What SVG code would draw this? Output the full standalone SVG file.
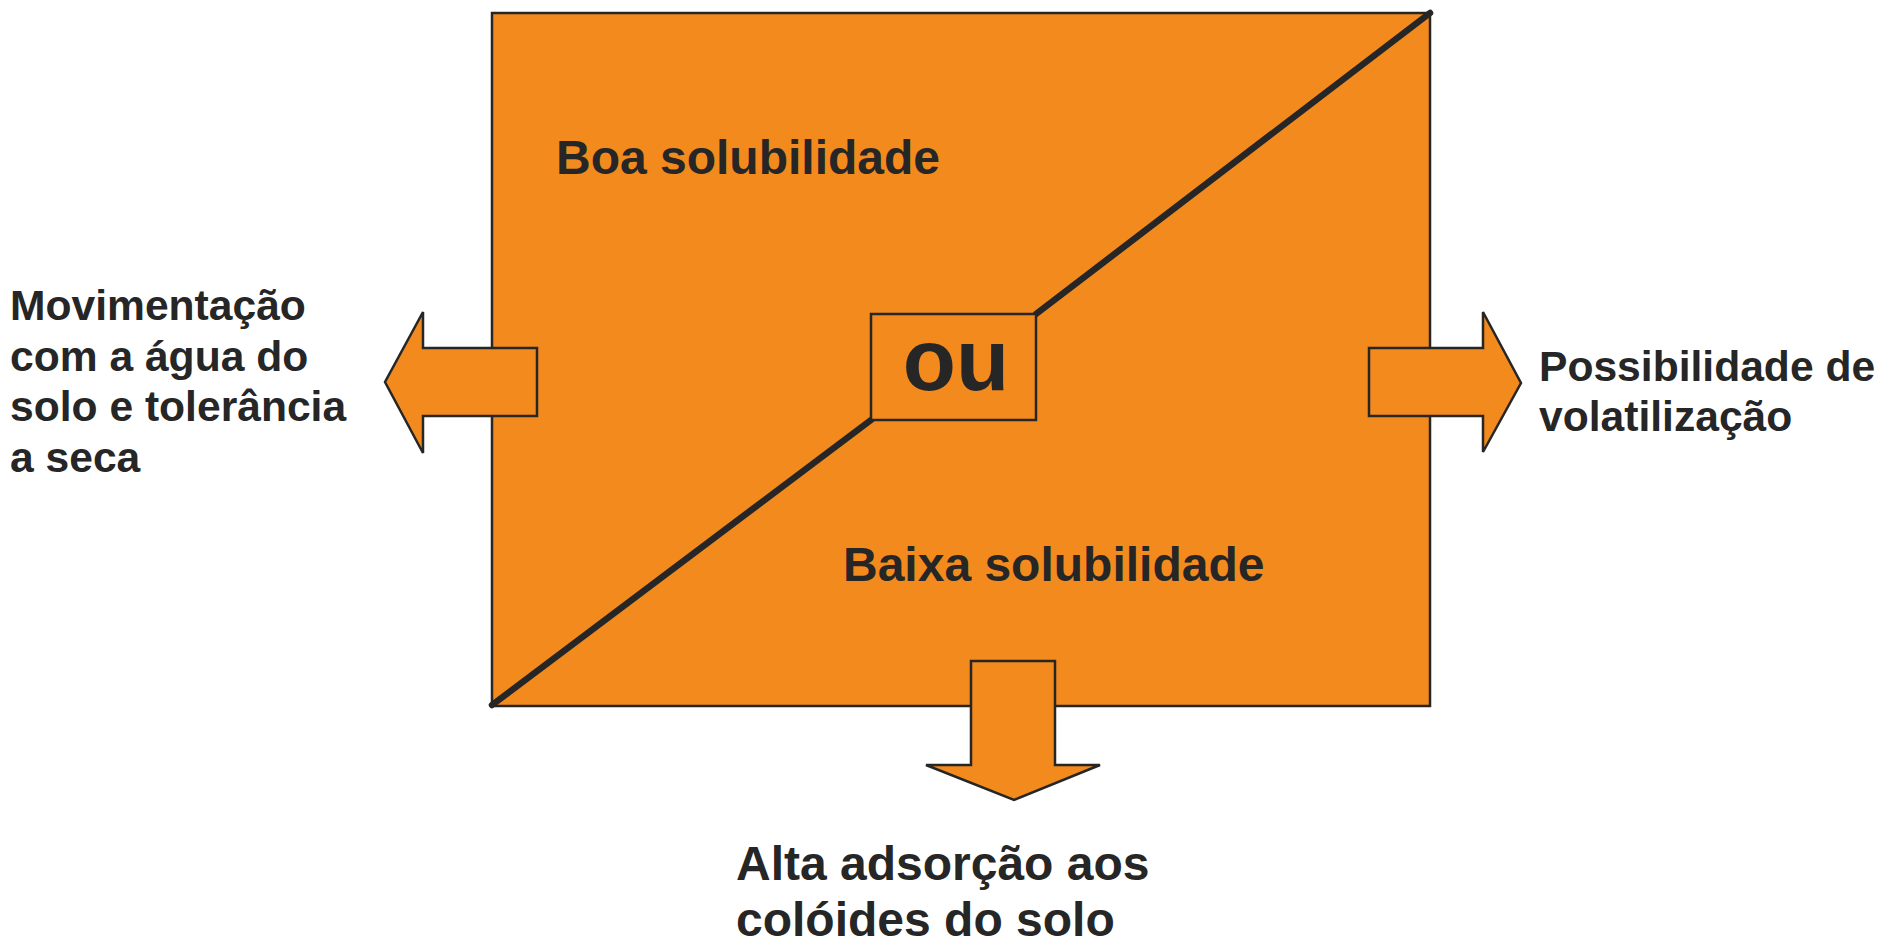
<svg xmlns="http://www.w3.org/2000/svg" width="1881" height="944" viewBox="0 0 1881 944">
<style>
.shape{fill:#F28A1E;stroke:#262626;stroke-width:2.5;stroke-linejoin:miter}
.diag{stroke:#262626;stroke-width:6.5;stroke-linecap:round;fill:none}
.lbl{font-family:"Liberation Sans",Arial,sans-serif;font-weight:bold;fill:#262626}
.big{font-size:48px}
.side{font-size:42.6px}
</style>
<rect width="1881" height="944" fill="#ffffff"/>
<g id="main-box">
<rect class="shape" x="492" y="13" width="938" height="693"/>
</g>
<g id="connectors">
<line class="diag" x1="492" y1="705" x2="871" y2="420"/>
<line class="diag" x1="1036" y1="314" x2="1430" y2="13"/>
</g>
<g id="arrow-left">
<polygon class="shape" points="537,348 423,348 423,312 385,382 423,453 423,416 537,416"/>
</g>
<g id="arrow-right">
<polygon class="shape" points="1369,348 1483,348 1483,312 1521,383 1483,452 1483,416 1369,416"/>
</g>
<g id="arrow-down">
<polygon class="shape" points="971,661 1055,661 1055,765 1100,765 1014,800 926,765 971,765"/>
</g>
<g id="ou-box">
<rect class="shape" x="871" y="314" width="165" height="106"/>
<text class="lbl" x="956" y="390" font-size="87" text-anchor="middle">ou</text>
</g>
<g id="boa">
<text class="lbl big" x="556" y="174">Boa solubilidade</text>
</g>
<g id="baixa">
<text class="lbl big" x="843" y="581">Baixa solubilidade</text>
</g>
<g id="left-label">
<text class="lbl side" x="10"><tspan x="10" y="320">Movimentação</tspan><tspan x="10" y="370.5">com a água do</tspan><tspan x="10" y="421">solo e tolerância</tspan><tspan x="10" y="471.5">a seca</tspan></text>
</g>
<g id="right-label">
<text class="lbl side" x="1539"><tspan x="1539" y="381">Possibilidade de</tspan><tspan x="1539" y="431">volatilização</tspan></text>
</g>
<g id="bottom-label">
<text class="lbl big" x="736"><tspan x="736" y="880">Alta adsorção aos</tspan><tspan x="736" y="936">colóides do solo</tspan></text>
</g>
</svg>
